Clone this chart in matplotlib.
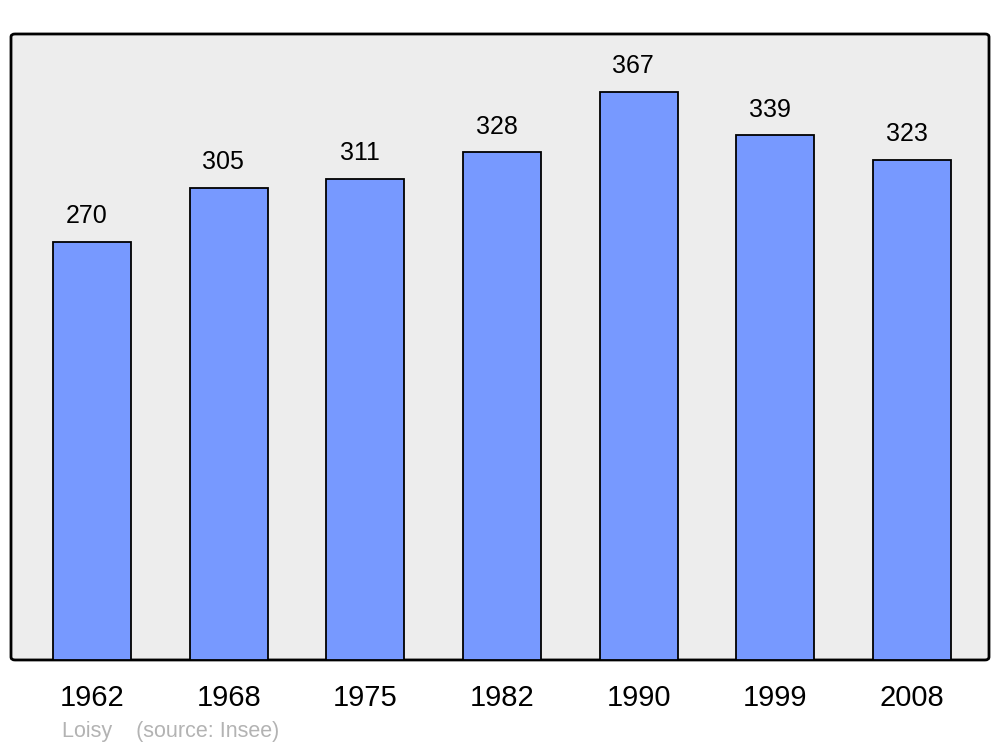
import matplotlib.pyplot as plt
from matplotlib.patches import FancyBboxPatch

plt.rcParams['font.family'] = ['Liberation Sans', 'DejaVu Sans']

years = ['1962', '1968', '1975', '1982', '1990', '1999', '2008']
population = [270, 305, 311, 328, 367, 339, 323]

fig = plt.figure(figsize=(10, 7.47), dpi=100)
ax = fig.add_axes([0.011, 0.1165, 0.978, 0.838])
ax.set_facecolor('none')

# rounded frame behind the axes
frame = FancyBboxPatch((0.011, 0.1165), 0.978, 0.838,
                       boxstyle='round,pad=0,rounding_size=0.004',
                       transform=fig.transFigure, facecolor='#ededed',
                       edgecolor='black', linewidth=2, zorder=-1)
fig.patches.append(frame)

x = range(len(years))
ax.bar(x, population, width=0.57, color='#7799ff', edgecolor='black',
       linewidth=1.3, zorder=2)

for xi, v in zip(x, population):
    ax.annotate(str(v), (xi, v), xytext=(-4, 18.5), textcoords='offset points',
                ha='center', va='center', fontsize=18)

ax.set_xlim(-0.593, 6.563)
ax.set_ylim(0, 404.4)
ax.set_xticks(list(x))
ax.set_xticklabels(years, fontsize=21)
ax.set_yticks([])
ax.tick_params(axis='x', length=0, pad=17)
for s in ax.spines.values():
    s.set_visible(False)

fig.text(0.062, 1 - 731 / 747, 'Loisy    (source: Insee)', color='#b3b3b3',
         fontsize=15.5, va='center', ha='left')

fig.savefig('out.png', dpi=100)
